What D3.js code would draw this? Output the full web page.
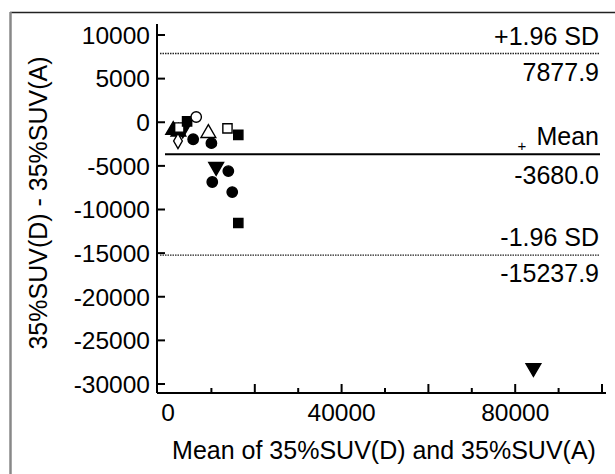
<!DOCTYPE html>
<html>
<head>
<meta charset="utf-8">
<script src="https://cdn.jsdelivr.net/npm/d3@7/dist/d3.min.js"></script>
<style>
html,body{margin:0;padding:0;background:#fff;}
svg{display:block;font-family:Arial,"Liberation Sans",Helvetica,sans-serif;}
</style>
</head>
<body>
<svg id="chart" width="615" height="474"></svg>
<script>
// Bland-Altman data
const meanValues = [1200, 2400, 3400, 2600, 4400, 6500, 2300, 5800, 9300, 10000, 13700, 16200, 11100, 13900, 10200, 14800, 16200, 84200];
const diffValues = [-900, -1100, -800, -600, 100, 600, -2150, -1950, -1250, -2400, -700, -1450, -5100, -5600, -6850, -8000, -11550, -28150];
const shapes = ["triangle-up", "triangle-up", "triangle-down", "square", "square", "circle", "diamond", "circle", "triangle-up", "circle", "square", "square", "triangle-down", "circle", "circle", "circle", "square", "triangle-down"];
const filled = [true, true, true, false, true, false, false, true, false, true, false, true, true, true, true, true, true, true];

const limitValues = [7877.9, -3680.0, -15237.9];
const limitNames = ["+1.96 SD", "Mean", "-1.96 SD"];
const limitLabels = ["7877.9", "-3680.0", "-15237.9"];

const yTicks = [10000, 5000, 0, -5000, -10000, -15000, -20000, -25000, -30000];
const xMajorTicks = [20000, 40000, 60000, 80000, 100000];
const xMinorTicks = [10000, 30000, 50000, 70000, 90000];
const xTickLabels = [0, 40000, 80000];

const svg = d3.select("#chart");
const W = 615, H = 474;

// frame lines (top and left visible)
svg.append("line").attr("x1", 10).attr("x2", W).attr("y1", 12.5).attr("y2", 12.5).attr("stroke", "#222").attr("stroke-width", 1.5);
svg.append("line").attr("x1", 10.5).attr("x2", 10.5).attr("y1", 12).attr("y2", H).attr("stroke", "#888").attr("stroke-width", 2.5);

const axX = 157, axY = 393;
const x = d3.scaleLinear().domain([0, 100000]).range([168, 602]);
const y = d3.scaleLinear().domain([10000, -30000]).range([35, 384]);

const FS = 25;

// y axis
svg.append("line").attr("x1", axX).attr("x2", axX).attr("y1", 24).attr("y2", axY).attr("stroke", "#000").attr("stroke-width", 2);
const yG = svg.append("g");
yTicks.forEach(t => {
  yG.append("line").attr("x1", axX).attr("x2", axX + 8).attr("y1", y(t)).attr("y2", y(t)).attr("stroke", "#000").attr("stroke-width", 2);
  yG.append("text").attr("x", axX - 7).attr("y", y(t)).attr("dy", "0.36em").attr("text-anchor", "end").attr("font-size", 24.5).text(t);
});

// x axis
svg.append("line").attr("x1", axX).attr("x2", 606).attr("y1", axY).attr("y2", axY).attr("stroke", "#000").attr("stroke-width", 2);
xMajorTicks.forEach(t => {
  svg.append("line").attr("x1", x(t)).attr("x2", x(t)).attr("y1", axY).attr("y2", axY - 9).attr("stroke", "#000").attr("stroke-width", 2);
});
xMinorTicks.forEach(t => {
  svg.append("line").attr("x1", x(t)).attr("x2", x(t)).attr("y1", axY).attr("y2", axY - 5).attr("stroke", "#000").attr("stroke-width", 2);
});
xTickLabels.forEach(t => {
  svg.append("text").attr("x", x(t)).attr("y", 421).attr("text-anchor", "middle").attr("font-size", 24.5).text(t);
});

// axis titles
svg.append("text").attr("x", 384).attr("y", 459).attr("text-anchor", "middle").attr("font-size", FS).text("Mean of 35%SUV(D) and 35%SUV(A)");
svg.append("text").attr("transform", "translate(47,203) rotate(-90)").attr("text-anchor", "middle").attr("font-size", FS).text("35%SUV(D) - 35%SUV(A)");

// limit lines
limitValues.forEach((v, i) => {
  const isMean = i === 1;
  svg.append("line").attr("x1", isMean ? 165 : 160).attr("x2", 600).attr("y1", y(v)).attr("y2", y(v))
    .attr("stroke", isMean ? "#000" : "#222").attr("stroke-width", isMean ? 2 : 1.3)
    .attr("stroke-dasharray", isMean ? null : "1.5,1");
  svg.append("text").attr("x", 599).attr("y", y(v) - 9).attr("text-anchor", "end").attr("font-size", FS).text(limitNames[i]);
  svg.append("text").attr("x", 599).attr("y", y(v) + (isMean ? 30 : 27)).attr("text-anchor", "end").attr("font-size", FS).text(limitLabels[i]);
});
svg.append("text").attr("x", 522).attr("y", y(limitValues[1]) - 3).attr("text-anchor", "middle").attr("font-size", 15).text("+");

// points
const symType = {
  "circle": d3.symbolCircle, "square": d3.symbolSquare, "triangle-up": d3.symbolTriangle,
  "triangle-down": d3.symbolTriangle, "diamond": d3.symbolDiamond
};
const symSize = { "circle": 85, "square": 85, "triangle-up": 95, "triangle-down": 95, "diamond": 65 };
meanValues.forEach((mv, i) => {
  const s = shapes[i];
  const rot = s === "triangle-down" ? 180 : 0;
  svg.append("path")
    .attr("d", d3.symbol().type(symType[s]).size(symSize[s])())
    .attr("transform", `translate(${x(mv)},${y(diffValues[i])}) rotate(${rot})`)
    .attr("fill", filled[i] ? "#000" : "#fff")
    .attr("stroke", "#000").attr("stroke-width", 1.4);
});
</script>
</body>
</html>
